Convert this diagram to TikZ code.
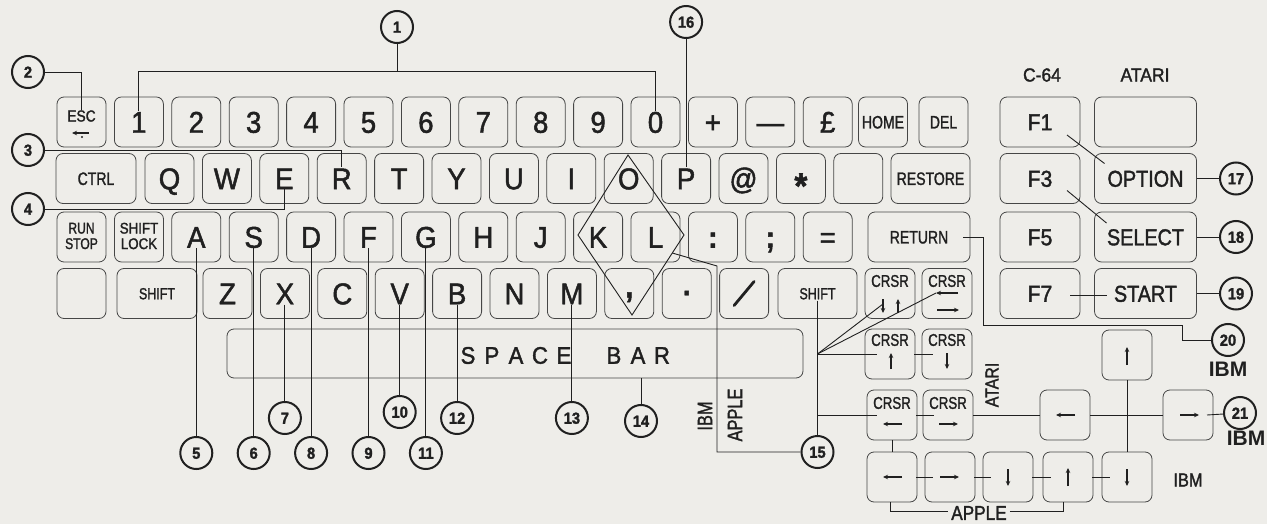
\documentclass[tikz,border=0pt]{standalone}
\usepackage{fontspec}
\setmainfont{Liberation Sans}[FakeStretch=0.92,FakeBold=1.6]
\newfontfamily\condf{Liberation Sans}[FakeStretch=0.78,FakeBold=1.4]
\newfontfamily\medf{Liberation Sans}[FakeStretch=0.86,FakeBold=1.6]
\newfontfamily\widef{Liberation Sans}
\usetikzlibrary{arrows.meta,calc}
\definecolor{paper}{RGB}{238,237,233}
\definecolor{ink}{RGB}{32,32,32}
\definecolor{keyline}{RGB}{70,70,70}
\newcommand\kfs[1]{\fontsize{#1}{#1}\selectfont}
\begin{document}
\begin{tikzpicture}[x=1pt,y=-1pt,
  key/.style={draw=keyline,line width=0.8pt,rounded corners=7pt,minimum width=49pt,minimum height=50pt,inner sep=0pt,text=ink,font={\kfs{30}},text height=21.5pt,text depth=0pt},
  skey/.style={key,font={\condf\kfs{18}},text height=12.9pt},
  ckey/.style={key,minimum width=50pt},
  fkey/.style={key,minimum width=80pt,font={\kfs{23}},text height=16.5pt},
  akey/.style={key,minimum width=102pt,font={\medf\kfs{23}},text height=16.5pt},
  num/.style={circle,draw=ink,line width=2pt,minimum size=32pt,inner sep=0pt,text=ink,font={\bfseries\kfs{16}},text height=11.5pt,text depth=0pt},
  conn/.style={draw=ink,line width=0.9pt},
  karr/.style={draw=ink,line width=1.1pt,-{Stealth[length=5pt,width=4.5pt]}},
  lbl/.style={text=ink,inner sep=0pt},
]
\fill[paper] (0,0) rectangle (1267,524);
\useasboundingbox (0,0) rectangle (1267,524);

% ---------- row 1
\node[skey] (k1-0) at (81.5,122) {};
\node[lbl,font={\medf\kfs{16}}] (esct) at (81.5,116) {ESC};
\draw[karr] (89,133) -- (72,133);
\fill[ink] (82,137) circle (1.2pt);
\foreach \t [count=\i] in {1,2,3,4,5,6,7,8,9,0,+,—,£}
  \node[key] (k1-\i) at ({81.5+57.4*\i},122) {\t};
\node[skey] (k1-14) at (883,122) {HOME};
\node[skey] (k1-15) at (943.5,122) {DEL};

% ---------- row 2
\node[skey,minimum width=80pt] (k2-c) at (96,178.5) {CTRL};
\foreach \t [count=\i from 0] in {Q,W,E,R,T,Y,U,I,O,P,@,{\raisebox{-9pt}{\bfseries\kfs{36}*}}}
  \node[key] (k2-\i) at ({169.5+57.4*\i},178.5) {\t};
\node[key] (k2-12) at ({169.5+57.4*12},178.5) {};
\node[skey,minimum width=79pt] (k2-r) at (930.5,178.5) {RESTORE};

% ---------- row 3
\node[skey] (k3-0) at (81.5,237) {};
\node[lbl,font={\condf\kfs{15.5}},align=center] (k3-0t) at (81.5,236) {RUN\\STOP};
\node[skey] (k3-1) at (139,237) {};
\node[lbl,font={\medf\kfs{15.5}},align=center] (k3-1t) at (139,236) {SHIFT\\LOCK};
\foreach \t [count=\i from 2] in {A,S,D,F,G,H,J,K,L,{\bfseries :},{\bfseries ;},=}
  \node[key] (k3-\i) at ({81.5+57.4*\i},237) {\t};
\node[skey,minimum width=102pt] (k3-r) at (919,237) {RETURN};

% ---------- row 4
\node[key] (k4-b) at (81.5,293.5) {};
\node[skey,minimum width=80pt,font={\condf\kfs{16}},text height=11.5pt] (k4-s) at (157,293.5) {SHIFT};
\foreach \t [count=\i from 0] in {Z,X,C,V,B,N,M,{\raisebox{7pt}{\bfseries\kfs{32},}},{\raisebox{9pt}{\bfseries .}},{}}
  \node[key] (k4-\i) at ({227.5+57.4*\i},293.5) {\t};
\draw[ink,line width=2.8pt,line cap=round] ($(k4-9)+(-10,12)$) -- ($(k4-9)+(10,-12)$);
\node[skey,minimum width=79pt,font={\condf\kfs{16}},text height=11.5pt] (k4-rs) at (817.5,293.5) {SHIFT};
\node[ckey] (c1) at (890,293.5) {};
\node[ckey] (c2) at (947,293.5) {};
\node[lbl,font={\condf\kfs{17}}] (c1t) at (890,281) {CRSR};
\node[lbl,font={\condf\kfs{17}}] (c2t) at (947,281) {CRSR};
\draw[karr] (883,299) -- (883,313);
\draw[karr] (898,313) -- (898,299);
\draw[karr] (958,293) -- (936,293);
\draw[karr] (937,310) -- (959,310);

% ---------- space bar
\node[key,minimum width=576pt,minimum height=49pt] (space) at (515,353.5) {};
\node[lbl,font={\kfs{24}}] (spt) at (565,355.5) {\makebox[24pt]{S}\makebox[24pt]{P}\makebox[24pt]{A}\makebox[24pt]{C}\makebox[24pt]{E}\hspace{26pt}\makebox[24pt]{B}\makebox[24pt]{A}\makebox[24pt]{R}};

% ---------- right panel
\node[lbl,font={\kfs{19}}] (hc64) at (1042,75) {C-64};
\node[lbl,font={\kfs{19}}] (hat) at (1145,75) {ATARI};
\node[fkey] (f1) at (1040,122) {F1};
\node[akey] (a0) at (1145.5,122) {};
\node[fkey] (f3) at (1040,178.5) {F3};
\node[akey] (opt) at (1145.5,178.5) {OPTION};
\node[fkey] (f5) at (1040,237) {F5};
\node[akey] (sel) at (1145.5,237) {SELECT};
\node[fkey] (f7) at (1040,293.5) {F7};
\node[akey] (sta) at (1145.5,293.5) {START};

% ---------- cursor cluster
\node[ckey] (cu) at (890,354) {};
\node[ckey] (cd) at (947,354) {};
\node[ckey] (cl) at (892,415) {};
\node[ckey] (cr) at (948,415) {};
\node[ckey] (al) at (1065,415) {};
\node[ckey] (ir) at (1188,415) {};
\node[ckey] (iu) at (1127,355) {};
\node[ckey] (b1) at (892,477) {};
\node[ckey] (b2) at (950,477) {};
\node[ckey] (b3) at (1008,477) {};
\node[ckey] (b4) at (1068,477) {};
\node[ckey] (b5) at (1127,477) {};
\node[lbl,font={\condf\kfs{17}}] (cut) at (890,340) {CRSR};
\node[lbl,font={\condf\kfs{17}}] (cdt) at (947,340) {CRSR};
\node[lbl,font={\condf\kfs{17}}] (clt) at (892,403) {CRSR};
\node[lbl,font={\condf\kfs{17}}] (crt) at (948,403) {CRSR};
\draw[karr] (891,369) -- (891,353);
\draw[karr] (947,353) -- (947,369);
\draw[karr] (902,424) -- (883,424);
\draw[karr] (939,424) -- (958,424);
\draw[karr] (1075,415) -- (1056,415);
\draw[karr] (1180,415) -- (1199,415);
\draw[karr] (1127,365) -- (1127,347);
\draw[karr] (902,477) -- (883,477);
\draw[karr] (940,477) -- (959,477);
\draw[karr] (1008,469) -- (1008,486);
\draw[karr] (1068,486) -- (1068,468);
\draw[karr] (1127,469) -- (1127,486);

% ---------- labels
\node[lbl,font={\medf\kfs{18.5}},rotate=90] (atr) at (992,385) {ATARI};
\node[lbl,font={\medf\kfs{19}}] (ibm1) at (1188,480) {IBM};
\node[lbl,font={\widef\bfseries\kfs{21}}] (ibm2) at (1228,369) {IBM};
\node[lbl,font={\widef\bfseries\kfs{21}}] (ibm3) at (1246,438) {IBM};
\node[lbl,font={\condf\kfs{21}},rotate=90] (ibmv) at (705,416) {IBM};
\node[lbl,font={\condf\kfs{21}},rotate=90] (aplv) at (735,415) {APPLE};
\node[lbl,font={\medf\kfs{20}},inner sep=3pt] (apl) at (979,513) {APPLE};

% ---------- number circles
\node[num] (n1) at (397,27) {1};
\node[num] (n2) at (28,72) {2};
\node[num] (n3) at (28,150) {3};
\node[num] (n4) at (28,209) {4};
\node[num] (n5) at (k3-2 |- 0,453) {5};
\node[num] (n6) at (k3-3 |- 0,453) {6};
\node[num] (n7) at (k4-1 |- 0,418) {7};
\node[num] (n8) at (k3-4 |- 0,453) {8};
\node[num] (n9) at (k3-5 |- 0,453) {9};
\node[num] (n10) at (k4-3 |- 0,412) {10};
\node[num] (n11) at (k3-6 |- 0,453) {11};
\node[num] (n12) at (k4-4 |- 0,418) {12};
\node[num] (n13) at (k4-6 |- 0,418) {13};
\node[num] (n14) at (641,421) {14};
\node[num] (n15) at (k4-rs |- 0,452) {15};
\node[num] (n16) at (k2-9 |- 0,22) {16};
\node[num] (n17) at (1236,178.5) {17};
\node[num] (n18) at (1236,237) {18};
\node[num] (n19) at (1236,293.5) {19};
\node[num] (n20) at (1228,340) {20};
\node[num] (n21) at (1240,413) {21};

% ---------- connectors
\coordinate (t1a) at (k1-1 |- 0,71);
\coordinate (t1b) at (k1-10 |- 0,71);
\draw[conn] (n1) -- (n1 |- t1a);
\draw[conn] ([yshift=11pt]k1-1.center) -- (t1a) -- (t1b) -- ([yshift=11pt]k1-10.center);
\draw[conn] (n2) -- (k1-0 |- n2) -- ([yshift=12pt]k1-0.center);
\draw[conn] (n3) -- (k2-3 |- n3) -- ([yshift=11pt]k2-3.center);
\draw[conn] (n4) -- (k2-2 |- n4) -- ([yshift=-11pt]k2-2.center);
\draw[conn] ([yshift=-11pt]k3-2.center) -- (n5);
\draw[conn] ([yshift=-11pt]k3-3.center) -- (n6);
\draw[conn] ([yshift=-11pt]k4-1.center) -- (n7);
\draw[conn] ([yshift=-11pt]k3-4.center) -- (n8);
\draw[conn] ([yshift=-11pt]k3-5.center) -- (n9);
\draw[conn] ([yshift=-11pt]k4-3.center) -- (n10);
\draw[conn] ([yshift=-11pt]k3-6.center) -- (n11);
\draw[conn] ([yshift=-11pt]k4-4.center) -- (n12);
\draw[conn] ([yshift=-11pt]k4-6.center) -- (n13);
\draw[conn] (space.south -| n14) -- (n14);
\draw[conn] (n16) -- ([yshift=11pt]k2-9.center);

% 15 and its branches
\draw[conn] ([yshift=-7pt]k4-rs.center) -- (n15);
\coordinate (b15a) at (k4-rs |- 0,354);
\coordinate (b15b) at (k4-rs |- 0,415);
\coordinate (c1p) at ($(c1)+(-7,10.5)$);
\coordinate (c2p) at ($(c2)+(-11,-0.5)$);
\draw[conn] (b15a) -- (c1p);
\draw[conn] (b15a) -- (c2p);
\draw[conn] (b15a) -- ($(cu)+(-13,0)$);
\draw[conn] (b15b) -- ($(cl)+(-15,0)$);

% diamond and IBM/APPLE connector
\coordinate (dT) at (628,155);
\coordinate (dR) at (684,235);
\coordinate (dB) at (632,315);
\coordinate (dL) at (578,235);
\draw[conn] (dT) -- (dR) -- (dB) -- (dL) -- cycle;
\coordinate (ia1) at (717,266);
\coordinate (ia2) at (717,452);
\draw[conn] ($(dR)!0.225!(dB)$) -- (ia1) -- (ia2) -- (n15);

% right panel connectors
\draw[conn] ($(f1)+(27,13)$) -- ($(opt)+(-41,-15)$);
\draw[conn] ($(f3)+(27,12)$) -- ($(sel)+(-39,-14)$);
\draw[conn] ($(f7)+(30,1.5)$) -- ($(sta)+(-39,1.5)$);
\draw[conn] (opt) -- (n17);
\draw[conn] (sel) -- (n18);
\draw[conn] (sta) -- (n19);
\coordinate (r1) at ($(k3-r)+(44,0)$);
\coordinate (r2) at (983,237);
\coordinate (r3) at (983,325);
\coordinate (r4) at (1182,325);
\coordinate (r5) at (1182,340);
\draw[conn] (r1) -- (r2) -- (r3) -- (r4) -- (r5) -- (n20);

% cursor cluster connectors
\draw[conn] ($(cu.east)+(-1,0)$) -- ($(cd.west)+(11,0)$);
\draw[conn] ($(cl.east)+(-1,0)$) -- ($(cr.west)+(11,0)$);
\draw[conn] (cr.east) -- (al.west);
\draw[conn] (al.east) -- (ir.west);
\draw[conn] ($(ir)+(19,0)$) -- (n21);
\draw[conn] (iu.south) -- (b5.north);
\draw[conn] (cl.south) -- (b1.north);
\foreach \a/\b in {b1/b2,b2/b3,b3/b4,b4/b5}
  \draw[conn] ($(\a.east)+(-1,0)$) -- ($(\b.west)+(8,0)$);
\coordinate (ab1) at (890,511);
\coordinate (ab2) at (1063,511);
\draw[conn] (b1.south -| ab1) -- (ab1) -- (apl.west |- ab1);
\draw[conn] (apl.east |- ab2) -- (ab2) -- (b4.south -| ab2);
\end{tikzpicture}
\end{document}
